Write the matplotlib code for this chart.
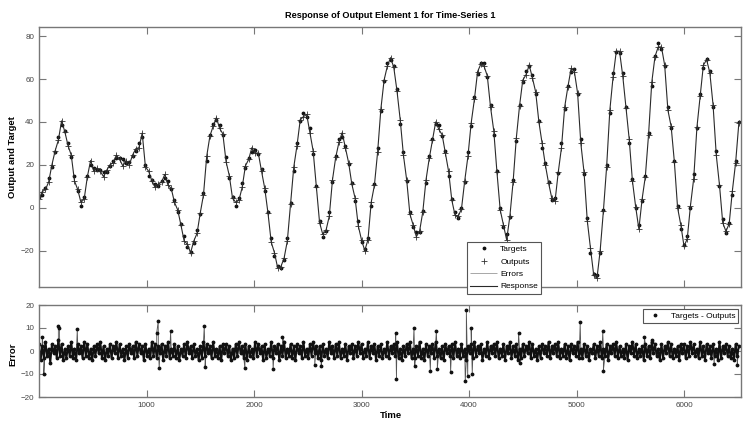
import numpy as np
import matplotlib.pyplot as plt

plt.rcParams['font.family'] = ['Liberation Sans', 'DejaVu Sans']

targets = [
    5, 6, 9, 14, 19, 26, 33, 38.5, 36, 30, 23.5, 15, 8, 1, 5, 15, 20, 18.5, 17.5, 17.5,
    16.5, 16.5, 19.5, 22, 23, 23, 22.5, 21, 21.5, 24, 26.5, 30, 33, 20, 15, 13, 11, 10, 12.5, 14,
    12.5, 8.5, 3.5, -2, -7.5, -13, -18.5, -20.5, -16.5, -10.5, -3, 7, 22, 34, 39, 41, 38.5, 34, 23.5, 14,
    5, 1, 4.5, 11.5, 18.5, 23, 26, 27, 25, 18, 8, -2, -14, -22.5, -27, -28, -24.5, -14, 2, 17,
    30, 40.5, 44, 42.5, 37, 25, 10, -6, -13.5, -11, -2, 12, 24, 32, 33, 29, 20.5, 11.5, 3, -6,
    -16, -19.5, -14, 1, 11, 28, 45, 59, 67.5, 69, 66, 55.5, 39, 26, 12.5, -2, -9, -11.5, -11.5, -1.5,
    11.5, 24, 32, 39, 38.5, 33.5, 26.5, 15, 4, -2, -5, 0, 12, 26, 38, 51.5, 62.5, 67.5, 67.5, 61,
    48, 34, 17, 0, -9, -12.5, -4.5, 13, 31, 48, 58.5, 64, 66, 62, 53, 40.5, 28, 21, 12, 3.5,
    4.5, 16, 30, 46, 57, 63.5, 64.5, 53, 32, 15.5, -5, -21, -31, -31.5, -21, -1, 20, 44, 63, 72.5,
    72, 63, 47, 30, 13.5, 0, -8, 3, 15, 35, 57, 71, 77, 74, 66, 47, 37, 22, 1, -10,
    -17.5, -13, 0, 15.5, 37, 53, 65, 69.5, 64, 47, 26.5, 10, -5.5, -12, -7, 6, 22, 40,
]

# targets minus outputs at the same samples
resid = [
    1, -1.5, 0.5, 2, -1, -0.5, 1.5, -2, 0.5, 1, -1, 2.5, -0.5, -1.5, 1, 0.5, -2, 1.5, -1, 0.5,
    2, -1, -0.5, 1, -1.5, 0.5, 3, -1, 1.5, -0.5, -1, 2, -1.8, 1, -2, 0.5, 1.5, -1, 0.5, -1.5,
    2, -0.5, 1, -1, 0.5, 2.5, -1.5, 0.5, -1, 1.5, -0.5, 1, -2, 0.5, 1, -1, 1.5, -0.5, 2, -1,
    0.5, -1.5, 1, 2, -1, 0.5, -2, 1.5, -0.5, 1, -1, 0.5, 2, -1.5, 1, -0.5, -1, 1.5, 0.5, -2,
    1, -0.5, 1.5, -1, 2, -1.5, 0.5, 1, -1, -0.5, 2, -1, 0.5, 1.5, -2, 1, -0.5, 0.5, -1.5, 2.5,
    -1, 0.5, 1, -1.5, 0.5, 2, -1, -0.5, 1.5, -1, 0.5, 1, -2, 1.5, -0.5, 1, -1, 2, -0.5, 0.5,
    -1.5, 1, 0.5, -1, 2, -0.5, 1, -2, 0.5, 1.5, -1, 0.5, -0.5, 2, -1.5, 1, -1, 0.5, 1.5, -0.5,
    1, -2, 0.5, 1, -1, 2.5, -0.5, 1, -1.5, 0.5, -1, 2, -0.5, 1.5, -1, 0.5, -2, 1, 0.5, -1,
    1.5, -0.5, 2, -1, 0.5, -1.5, 1, -0.5, 2, -1, 1, -2, 0.5, 1.5, -1, 0.5, 1, -1.5, 2, -0.5,
    -1, 1.5, 0.5, -2, 1, -0.5, 2, -1, 0.5, 1, -1.5, 0.5, 2, -1, -0.5, 1.5, -1, 0.5, 1, -2,
    0.5, 1.5, -1, 2, -0.5, 1, -1.5, 0.5, 1, -1, 2, -0.5, 1.5, -1, 0.5, -2, 1, 0.5,
]

# error band, every 15 time steps (bottom panel)
err_band = [
    3, -4, 2, -3, 4, -2, 1, -5, 3, -1, 2, -3, 5, -2, 3, -4, 1, -3, 2, -2, 4, -3, 1, -4, 3, -1, 2, -3, 4,
    -2, 3, -3, 1, -4, 2, -2, 3, -1, 4, -3, 2, -4, 1, -2, 3, -3, 2, -1, 4, -3, 3, -2, 1, -4, 2, -3, 3, -1,
    2, -3, 4, -2, 3, -1, 2, -4, 3, -2, 1, -3, 4, -2, 3, -3, 2, -1, 3, -4, 2, -2, 4, -3, 1, -2, 3, -3, 2,
    -4, 1, -2, 3, -3, 4, -1, 2, -3, 3, -2, 1, -4, 2, -3, 4, -2, 3, -1, 2, -3, 4, -2, 1, -3, 2, -4, 3, -1,
    3, -2, 2, -4, 1, -3, 3, -2, 4, -1, 2, -3, 3, -4, 2, -2, 1, -3, 4, -2, 3, -1, 2, -4, 3, -3, 1, -2, 4,
    -3, 2, -1, 3, -4, 2, -2, 4, -3, 1, -2, 3, -3, 2, -4, 3, -1, 2, -3, 4, -2, 1, -3, 3, -2, 4, -1, 2, -3,
    2, -4, 3, -2, 1, -3, 4, -1, 2, -3, 3, -2, 4, -3, 1, -2, 3, -4, 2, -1, 3, -3, 2, -2, 4, -1, 3, -3, 1,
    -2, 4, -3, 2, -1, 3, -4, 2, -2, 3, -3, 1, -2, 4, -3, 2, -1, 3, -2, 4, -3, 1, -4, 2, -2, 3, -1, 4, -3,
    1, -3, 2, -2, 4, -3, 1, -4, 3, -2, 2, -1, 3, -3, 4, -2, 1, -3, 2, -4, 3, -1, 2, -2, 3, -3, 4, -2, 1,
    -3, 3, -2, 1, -4, 2, -1, 3, -3, 4, -2, 2, -1, 3, -4, 1, -2, 4, -3, 2, -1, 3, -2, 4, -3, 1, -2, 3, -4,
    2, -1, 4, -3, 2, -2, 3, -4, 1, -3, 3, -2, 2, -1, 4, -3, 3, -2, 1, -4, 2, -3, 3, -1, 2, -2, 4, -3, 2,
    -1, 3, -2, 4, -3, 1, -2, 3, -3, 2, -4, 3, -1, 2, -2, 4, -3, 1, -3, 3, -2, 2, -4, 1, -1, 3, -3, 2, -2,
    4, -3, 1, -2, 3, -4, 2, -1, 3, -2, 4, -3, 2, -2, 1, -3, 3, -4, 2, -1, 4, -2, 3, -3, 1, -2, 2, -4, 3,
    -2, 2, -3, 4, -1, 3, -2, 1, -4, 3, -3, 2, -1, 4, -2, 3, -3, 1, -2, 2, -4, 3, -1, 3, -3, 2, -2, 4, -1,
    3, -2, 1, -3, 4, -2, 2, -4, 3, -1, 2, -3, 3, -2, 1, -4, 4, -3, 2, -1, 3, -2, 2, -3, 1, -4, 3, -2, 2,
]

# isolated large errors
spike_t = [30, 45, 180, 190, 356, 1095, 1109, 1118, 1224, 1537, 1545, 1915, 2178, 2265, 2565,
           2625, 3318, 3325, 3488, 3495, 3640, 3696, 3705, 3829, 3965, 3975, 3988, 4020, 4030,
           4461, 4475, 5034, 5244, 5250, 5632, 5700, 6280, 6495]
spike_v = [6, -10, 11, 10, 9.5, 8, 13, -7.5, 8.5, 11, -7, -7.5, -8, 6, -6,
           -6.5, 8, -12, 10, -6.5, -8.5, 8.5, -8, -9, -13, 18, -11, 10, -10,
           8, -5, 12.5, 8.5, -8.5, 6, 5, -5.5, -6]

t = np.arange(len(targets)) * 30
targets = np.array(targets)
outputs = targets - np.array(resid)

t_band = np.arange(len(err_band)) * 15
tb = np.concatenate([t_band, spike_t])
eb = np.concatenate([err_band, spike_v])
order = np.argsort(tb, kind='stable')
tb, eb = tb[order], eb[order]

fig = plt.figure(figsize=(7.43, 4.22), dpi=100)
ax1 = fig.add_axes([39 / 743, 1 - 287 / 422, 702 / 743, 260 / 422])
ax2 = fig.add_axes([39 / 743, 1 - 397 / 422, 702 / 743, 92 / 422])

frame = '#777777'
for ax in (ax1, ax2):
    for s in ax.spines.values():
        s.set_color(frame)
        s.set_linewidth(1.0)
    ax.tick_params(direction='in', length=5, width=0.8, color=frame,
                   labelsize=5.8, labelcolor='#444444', top=True, right=True)
    ax.set_xlim(0, 6530)
    ax.set_xticks([1000, 2000, 3000, 4000, 5000, 6000])

# top panel
ax1.vlines(t, outputs, targets, color='#999999', lw=0.6, label='Errors')
ax1.plot(t, targets, '.', color='#111111', ms=3.5, label='Targets')
ax1.plot(t, outputs, '+', color='#333333', ms=5, mew=0.6, label='Outputs')
ax1.plot(t, outputs, '-', color='#2a2a2a', lw=0.8, label='Response')
ax1.set_ylim(-37, 84.3)
ax1.set_yticks([-20, 0, 20, 40, 60, 80])
ax1.set_xticklabels([])

h, l = ax1.get_legend_handles_labels()
idx = [l.index(n) for n in ['Targets', 'Outputs', 'Errors', 'Response']]
leg = ax1.legend([h[i] for i in idx], [l[i] for i in idx], loc='upper left',
                 bbox_to_anchor=(467 / 743, 1 - 242 / 422), bbox_transform=fig.transFigure,
                 borderaxespad=0, fontsize=6, frameon=True, fancybox=False,
                 handlelength=3.2, handletextpad=0.4, labelspacing=0.55,
                 borderpad=0.4, markerscale=1.0)
leg.get_frame().set_edgecolor('#555555')
leg.get_frame().set_linewidth(0.8)
leg.get_frame().set_alpha(1)
leg.set_clip_on(False)

# bottom panel: thin line through everything, thick through the dense band
ax2.plot(tb, eb, '-', color='#555555', lw=0.6)
ax2.plot(t_band, err_band, '-', color='#111111', lw=1.4)
ax2.plot(tb, eb, '.', color='#111111', ms=3.5, label='Targets - Outputs')
ax2.set_ylim(-20, 20)
ax2.set_yticks([-20, -10, 0, 10, 20])
leg2 = ax2.legend(loc='upper right', bbox_to_anchor=(738 / 743, 1 - 309 / 422),
                  bbox_transform=fig.transFigure, borderaxespad=0, fontsize=6,
                  fancybox=False, handlelength=2.2, handletextpad=0.8, borderpad=0.35)
leg2.get_frame().set_edgecolor('#555555')
leg2.get_frame().set_linewidth(0.8)
leg2.get_frame().set_alpha(1)

fig.text(390 / 743, 1 - 15 / 422, 'Response of Output Element 1 for Time-Series 1',
         ha='center', va='center', fontsize=6.6, fontweight='bold')
fig.text(13 / 743, 1 - 157 / 422, 'Output and Target', rotation=90,
         ha='center', va='center', fontsize=6.8, fontweight='bold')
fig.text(12.5 / 743, 1 - 354 / 422, 'Error', rotation=90,
         ha='center', va='center', fontsize=6.8, fontweight='bold')
fig.text(391 / 743, 1 - 416 / 422, 'Time', ha='center', va='center',
         fontsize=6.8, fontweight='bold')

fig.savefig('out.png', dpi=100)
